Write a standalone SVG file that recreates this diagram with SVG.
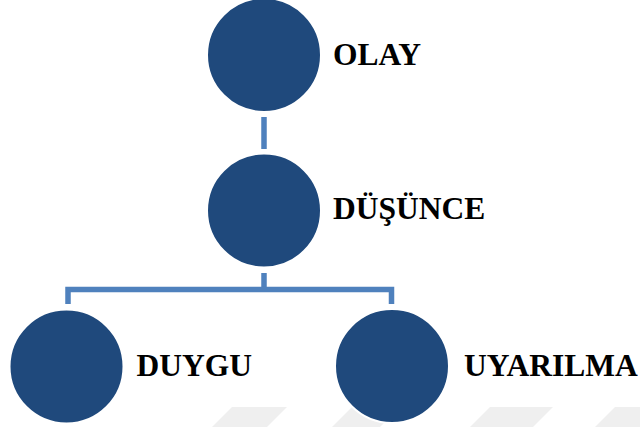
<svg xmlns="http://www.w3.org/2000/svg" width="640" height="427" viewBox="0 0 640 427">
<style>
.node{fill:#1F497C;stroke:#ffffff;stroke-width:2}
.lbl{font-family:"Liberation Serif","Times New Roman",serif;font-weight:bold;font-size:31.5px;fill:#000}
.conn{fill:none;stroke:#4F81BD;stroke-width:5.5}
.wm{fill:#efefef}
</style>
<rect width="640" height="427" fill="#ffffff"/>
<g id="watermark">
<polygon class="wm" points="232,407 287,407 267,427 212,427"/>
<polygon class="wm" points="352,407 400,407 380,427 332,427"/>
<polygon class="wm" points="490,407 553,407 533,427 470,427"/>
<polygon class="wm" points="615,407 640,407 640,427 595,427"/>
</g>
<g id="connectors">
<line class="conn" x1="264" y1="117" x2="264" y2="149"/>
<polyline class="conn" points="264,273 264,289.5"/>
<polyline class="conn" points="68,304 68,289.5 391.5,289.5 391.5,304"/>
</g>
<g id="olay">
<circle class="node" cx="264" cy="55" r="57"/>
<text class="lbl" x="333" y="65">OLAY</text>
</g>
<g id="dusunce">
<circle class="node" cx="264" cy="210.5" r="57"/>
<text class="lbl" x="333" y="219">DÜŞÜNCE</text>
</g>
<g id="duygu">
<circle class="node" cx="66.5" cy="366.5" r="57"/>
<text class="lbl" x="136.5" y="376">DUYGU</text>
</g>
<g id="uyarilma">
<circle class="node" cx="392" cy="366" r="57"/>
<text class="lbl" x="464" y="376">UYARILMA</text>
</g>
</svg>
